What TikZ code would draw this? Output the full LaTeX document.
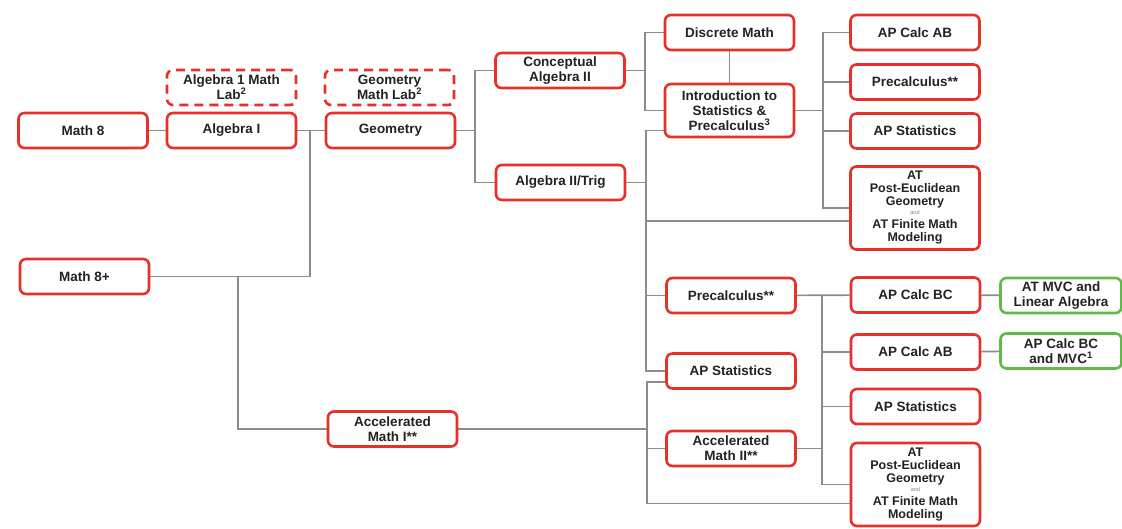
\documentclass[tikz,border=0pt]{standalone}
\usepackage{fontspec}
\setmainfont{Liberation Sans}
\usetikzlibrary{backgrounds}
\definecolor{boxred}{RGB}{232,48,40}
\definecolor{boxgreen}{RGB}{96,186,72}
\definecolor{linegray}{RGB}{140,140,140}
\definecolor{txtgray}{RGB}{34,34,34}
\newcommand{\andtxt}{{\fontsize{5.5}{6}\selectfont\mdseries\color{gray}and}}
\begin{document}
\begin{tikzpicture}[x=1pt,y=-1pt,
	course/.style={draw=boxred,line width=2.6pt,rounded corners=6pt,fill=white,minimum width=129pt,minimum height=35pt,inner sep=1pt,align=center,text=txtgray,font=\fontsize{13.5}{15}\selectfont\bfseries},
	lab/.style={course,dash pattern=on 9pt off 6pt},
	adv/.style={course,draw=boxgreen,minimum width=121pt},
	tall/.style={course,minimum height=83pt,font=\fontsize{12.5}{13}\selectfont\bfseries},
	link/.style={draw=linegray,line width=1.6pt}]
	\useasboundingbox (0,0) rectangle (1122,528);
	\node[course] (math8) at (83,130.5) {Math 8};
	\node[lab] (alg1lab) at (231.5,87.5) {Algebra 1 Math\\Lab\textsuperscript{2}};
	\node[course] (alg1) at (231.5,130.5) {Algebra I};
	\node[lab] (geolab) at (389.5,87.5) {Geometry\\Math Lab\textsuperscript{2}};
	\node[course] (geo) at (390.5,130.5) {Geometry};
	\node[course] (math8p) at (84.5,276.5) {Math 8+};
	\node[course] (accone) at (392.5,429) {Accelerated\\Math I**};
	\node[course] (concalg) at (560,70.5) {Conceptual\\Algebra II};
	\node[course] (algtrig) at (560.5,182.5) {Algebra II/Trig};
	\node[course] (discrete) at (729.5,32.5) {Discrete Math};
	\node[course,minimum height=53pt] (introstat) at (729.5,110.5) {Introduction to\\Statistics \&\\Precalculus\textsuperscript{3}};
	\node[course] (calcab) at (915,32.5) {AP Calc AB};
	\node[course] (precalc) at (915,82) {Precalculus**};
	\node[course] (apstat) at (915,131) {AP Statistics};
	\node[tall] (atgeo) at (915,208) {AT\\Post-Euclidean\\Geometry\\[-4pt]\andtxt\\[1pt]AT Finite Math\\Modeling};
	\node[course] (precalcb) at (731,295.5) {Precalculus**};
	\node[course] (apstatb) at (731,371) {AP Statistics};
	\node[course] (acctwo) at (731,448.5) {Accelerated\\Math II**};
	\node[course] (calcbc) at (915.5,295) {AP Calc BC};
	\node[course] (calcabb) at (915.5,352) {AP Calc AB};
	\node[course] (apstatc) at (915.5,406.5) {AP Statistics};
	\node[tall] (atgeob) at (915.5,484.5) {AT\\Post-Euclidean\\Geometry\\[-4pt]\andtxt\\[1pt]AT Finite Math\\Modeling};
	\node[adv] (mvclin) at (1061,295.5) {AT MVC and\\Linear Algebra};
	\node[adv] (bcmvc) at (1061,351) {AP Calc BC\\and MVC\textsuperscript{1}};
	\begin{scope}[on background layer]
		\coordinate (j1) at (310,130.5);
		\coordinate (j2) at (238,276.5);
		\coordinate (j3) at (475,130.5);
		\coordinate (j4) at (645,70.5);
		\coordinate (j5) at (646,182.5);
		\coordinate (j6) at (647,429);
		\coordinate (j7) at (823,110.5);
		\coordinate (j8) at (822,295.5);
		\draw[link] (math8) -- (alg1);
		\draw[link] (alg1) -- (geo);
		\draw[link] (math8p.east) -| (j1);
		\draw[link] (j2) |- (accone.west);
		\draw[link] (geo) -- (j3);
		\draw[link] (concalg.west) -| (j3) |- (algtrig.west);
		\draw[link] (concalg.east) -- (j4);
		\draw[link] (discrete.west) -| (j4) |- (introstat.west);
		\draw[link] (discrete) -- (introstat);
		\draw[link] (algtrig.east) -- (j5);
		\draw[link] ([yshift=-20pt]introstat.west) -| (j5) |- (apstatb.west);
		\draw[link] (j5) |- (precalcb.west);
		\draw[link] (j5) |- ([yshift=-13pt]atgeo.west);
		\draw[link] (accone.east) -- (j6);
		\draw[link] ([yshift=-11pt]apstatb.west) -| (j6) |- ([yshift=-19pt]atgeob.west);
		\draw[link] (j6) |- (acctwo.west);
		\draw[link] (introstat.east) -- (j7);
		\draw[link] (calcab.west) -| (j7) |- (atgeo.west);
		\draw[link] (j7) |- (precalc.west);
		\draw[link] (j7) |- (apstat.west);
		\draw[link] (precalcb) -- (calcbc);
		\draw[link] (j8) |- (calcabb.west);
		\draw[link] (j8) |- (apstatc.west);
		\draw[link] (j8) |- (atgeob.west);
		\draw[link] (acctwo.east) -- (acctwo.east -| j8);
		\draw[link] (calcbc) -- (mvclin);
		\draw[link] (calcabb) -- (bcmvc);
	\end{scope}
\end{tikzpicture}
\end{document}
